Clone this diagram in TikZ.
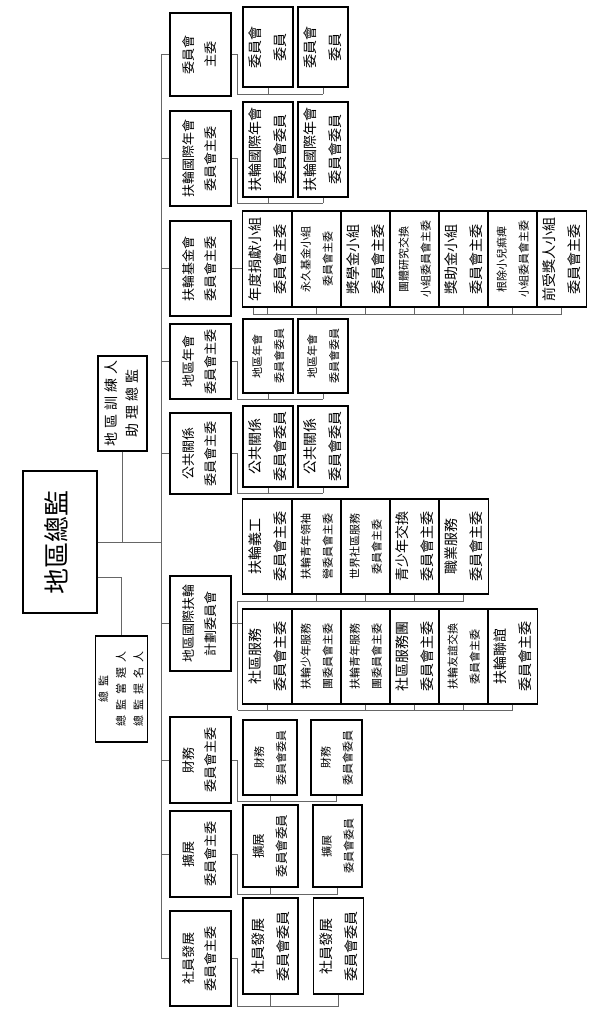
\documentclass[tikz,border=0pt]{standalone}
\usepackage{graphicx}
\usepackage{fontspec}
\newfontfamily\cjk{Noto Sans CJK TC}
\newfontfamily\cjkls{Noto Sans CJK TC}[LetterSpace=28]
\newfontfamily\cjkwide{Noto Sans CJK TC}[LetterSpace=45]
\newcommand{\vt}[1]{\rotatebox{90}{\begin{tabular}{@{}c@{}}#1\end{tabular}}}
\tikzset{
  box/.style={draw, line width=1.1pt, inner sep=0pt},
  wh/.style 2 args={minimum width=#1pt, minimum height=#2pt},
  wire/.style={draw=black!60, line width=0.7pt},
  lvone/.style={box, wh={61}{#1}, font=\fontsize{13}{22}\selectfont\cjk},
  bigt/.style={font=\fontsize{14}{25}\selectfont\cjk},
  midt/.style={font=\fontsize{12.5}{23}\selectfont\cjk},
  smallt/.style={font=\fontsize{11}{22}\selectfont\cjk},
}
\begin{document}
\begin{tikzpicture}[x=1pt,y=-1pt]
\fill[white] (0,0) rectangle (600,1023);
\useasboundingbox (0,0) rectangle (600,1023);
% governor and his aides
\node[box, wh={74}{142}, font=\fontsize{26}{30}\selectfont\cjk] (dg) at (60,542) {\vt{地區總監}};
\node[box, wh={49}{95}, font=\fontsize{14}{21}\selectfont\cjkls] (trainer) at (122.5,403.5) {\vt{地區訓練人\\助理總監}};
\node[box, wh={49}{106}, font=\fontsize{11}{17.5}\selectfont\cjkwide] (gov) at (121.5,689) {\vt{總監\\總監當選人\\總監提名人}};
% committee chairs
\node[lvone=83] (c1) at (200.5,54.5) {\vt{委員會\\主委}};
\node[lvone=95] (c2) at (200.5,158.5) {\vt{扶輪國際年會\\委員會主委}};
\node[lvone=95] (c3) at (200.5,268.5) {\vt{扶輪基金會\\委員會主委}};
\node[lvone=75] (c4) at (200.5,361.5) {\vt{地區年會\\委員會主委}};
\node[lvone=81] (c5) at (200.5,453.5) {\vt{公共關係\\委員會主委}};
\node[lvone=95] (c6) at (200.5,623.5) {\vt{地區國際扶輪\\計劃委員會}};
\node[lvone=86] (c7) at (200.5,760) {\vt{財務\\委員會主委}};
\node[lvone=86] (c8) at (200.5,854) {\vt{擴展\\委員會主委}};
\node[lvone=95] (c9) at (200.5,958.5) {\vt{社員發展\\委員會主委}};
% committee members
\node[box, wh={50}{80}, bigt] (m1a) at (268,47) {\vt{委員會\\委員}};
\node[box, wh={50}{80}, bigt] (m1b) at (323,47) {\vt{委員會\\委員}};
\node[box, wh={50}{95}, bigt] (m2a) at (268,149.5) {\vt{扶輪國際年會\\委員會委員}};
\node[box, wh={50}{95}, bigt] (m2b) at (323,149.5) {\vt{扶輪國際年會\\委員會委員}};
\node[box, wh={50}{74}, smallt] (m4a) at (268,356) {\vt{地區年會\\委員會委員}};
\node[box, wh={50}{74}, smallt] (m4b) at (323,356) {\vt{地區年會\\委員會委員}};
\node[box, wh={50}{81}, bigt] (m5a) at (268,446.5) {\vt{公共關係\\委員會委員}};
\node[box, wh={50}{81}, bigt] (m5b) at (323,446.5) {\vt{公共關係\\委員會委員}};
\node[box, wh={54}{75}, smallt] (m7a) at (270,757.5) {\vt{財務\\委員會委員}};
\node[box, wh={51}{75}, smallt] (m7b) at (336.5,757.5) {\vt{財務\\委員會委員}};
\node[box, wh={55}{82}, midt] (m8a) at (270.5,846) {\vt{擴展\\委員會委員}};
\node[box, wh={49}{82}, smallt] (m8b) at (337.5,846) {\vt{擴展\\委員會委員}};
\node[box, wh={55}{96}, bigt] (m9a) at (270.5,946) {\vt{社員發展\\委員會委員}};
\node[box, wh={49}{96}, bigt] (m9b) at (338.5,946) {\vt{社員發展\\委員會委員}};
% foundation sub-committees
\node[box, wh={49}{96}, bigt] (f1) at (267.5,259) {\vt{年度捐獻小組\\委員會主委}};
\node[box, wh={49}{96}, smallt] (f2) at (316.5,259) {\vt{永久基金小組\\委員會主委}};
\node[box, wh={49}{96}, bigt] (f3) at (365.5,259) {\vt{獎學金小組\\委員會主委}};
\node[box, wh={49}{96}, smallt] (f4) at (414.5,259) {\vt{團體研究交換\\小組委員會主委}};
\node[box, wh={49}{96}, bigt] (f5) at (463.5,259) {\vt{獎助金小組\\委員會主委}};
\node[box, wh={49}{96}, smallt] (f6) at (512.5,259) {\vt{根除小兒痲痺\\小組委員會主委}};
\node[box, wh={49}{96}, bigt] (f7) at (561.5,259) {\vt{前受獎人小組\\委員會主委}};
% service sub-committees
\node[box, wh={49}{95}, bigt] (u1) at (267.5,546.5) {\vt{扶輪義工\\委員會主委}};
\node[box, wh={49}{95}, smallt] (u2) at (316.5,546.5) {\vt{扶輪青年領袖\\營委員會主委}};
\node[box, wh={49}{95}, smallt] (u3) at (365.5,546.5) {\vt{世界社區服務\\委員會主委}};
\node[box, wh={49}{95}, bigt] (u4) at (414.5,546.5) {\vt{青少年交換\\委員會主委}};
\node[box, wh={49}{95}, bigt] (u5) at (463.5,546.5) {\vt{職業服務\\委員會主委}};
\node[box, wh={49}{95}, bigt] (l1) at (267.5,656.5) {\vt{社區服務\\委員會主委}};
\node[box, wh={49}{95}, smallt] (l2) at (316.5,656.5) {\vt{扶輪少年服務\\團委員會主委}};
\node[box, wh={49}{95}, smallt] (l3) at (365.5,656.5) {\vt{扶輪青年服務\\團委員會主委}};
\node[box, wh={49}{95}, bigt] (l4) at (414.5,656.5) {\vt{社區服務團\\委員會主委}};
\node[box, wh={49}{95}, smallt] (l5) at (463.5,656.5) {\vt{扶輪友誼交換\\委員會主委}};
\node[box, wh={49}{95}, bigt] (l6) at (512.5,656.5) {\vt{扶輪聯誼\\委員會主委}};
% connectors
\coordinate (spine) at (161,0);
\draw[wire] (c1.west) -- (c1.west -| spine) |- (c9.west);
\foreach \n in {c2,c3,c4,c5,c6,c7,c8} \draw[wire] (\n.west) -- (\n.west -| spine);
\draw[wire] (dg.east) -- (dg.east -| spine);
\draw[wire] (trainer.south) -- (trainer.south |- dg.east);
\draw[wire] ([yshift=-35pt]dg.east) -| (gov.north);
\foreach \g/\y in {1/94,2/203,4/399,5/493,7/801,8/894,9/1006} {
  \draw[wire] (c\g.east) -- ++(6,0) |- (m\g b.south |- 0,\y);
  \draw[wire] (m\g a.south) -- (m\g a.south |- 0,\y);
  \draw[wire] (m\g b.south) -- (m\g b.south |- 0,\y);
}
\draw[wire] (c3.east) -- (c3.east -| f1.west);
\draw[wire] ([xshift=-14.5pt]f1.south) |- (f7.south |- 0,314);
\foreach \i in {1,...,7} \draw[wire] (f\i.south) -- (f\i.south |- 0,314);
\coordinate (j6) at ([xshift=6pt]c6.east);
\draw[wire] (c6.east) -- (c6.east -| l1.west);
\draw[wire] (j6 |- 0,601) -- (j6 |- 0,710);
\draw[wire] (j6 |- 0,601) -- (u5.south |- 0,601);
\draw[wire] (j6 |- 0,710) -- (l6.south |- 0,710);
\foreach \i in {1,...,5} \draw[wire] (u\i.south) -- (u\i.south |- 0,601);
\foreach \i in {1,3,4,5,6} \draw[wire] (l\i.south) -- (l\i.south |- 0,710);
\end{tikzpicture}
\end{document}
